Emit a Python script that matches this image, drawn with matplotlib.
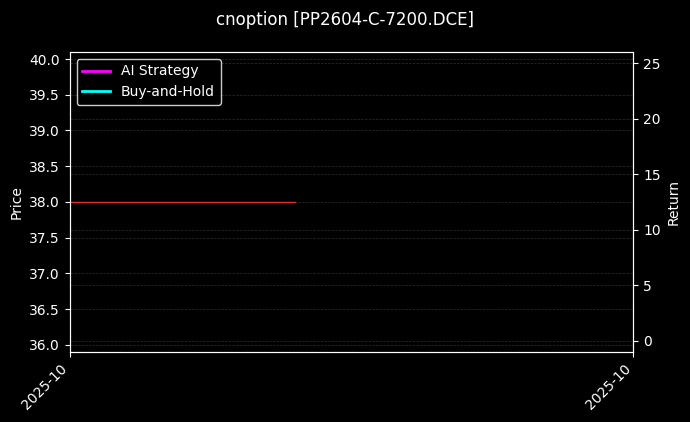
import matplotlib
matplotlib.use("Agg")
import matplotlib.pyplot as plt
import matplotlib.dates as mdates
import numpy as np
import pandas as pd

# datos
dates = pd.to_datetime(["2025-10-20", "2025-10-21", "2025-10-22",
                        "2025-10-23", "2025-10-24", "2025-10-25"])
price = [38.0, 38.0, 38.0, np.nan, np.nan, np.nan]
ai_return = [np.nan] * 6
bh_return = [np.nan] * 6
title = "cnoption [PP2604-C-7200.DCE]"

plt.style.use("dark_background")
fig, ax = plt.subplots(figsize=(6.9, 4.22), dpi=100)
fig.patch.set_facecolor("black")
ax.set_facecolor("black")

ax.plot(dates, price, color="#e03030", linewidth=1)
ax.set_ylim(35.9, 40.1)
ax.set_ylabel("Price")
ax.grid(True, linestyle="--", color="gray", alpha=0.35, linewidth=0.5)

ax2 = ax.twinx()
ax2.plot(dates, ai_return, color="magenta", linewidth=2, label="AI Strategy")
ax2.plot(dates, bh_return, color="cyan", linewidth=2, label="Buy-and-Hold")
ax2.set_ylim(-1.0, 26.0)
ax2.set_yticks([0, 5, 10, 15, 20, 25])
ax2.set_ylabel("Return")
ax2.grid(True, linestyle="--", color="gray", alpha=0.35, linewidth=0.5)

ax.set_xlim(dates[0], dates[-1])
ax.set_xticks([dates[0], dates[-1]])
ax.xaxis.set_major_formatter(mdates.DateFormatter("%Y-%m"))
plt.setp(ax.get_xticklabels(), rotation=45, ha="right")

leg = ax2.legend(loc="upper left", facecolor="black", edgecolor="white")
for t in leg.get_texts():
    t.set_color("white")

fig.suptitle(title, fontsize=12, y=0.975)
fig.subplots_adjust(left=0.101, right=0.918, top=0.877, bottom=0.166)
fig.savefig("out.png", dpi=100, facecolor="black")
